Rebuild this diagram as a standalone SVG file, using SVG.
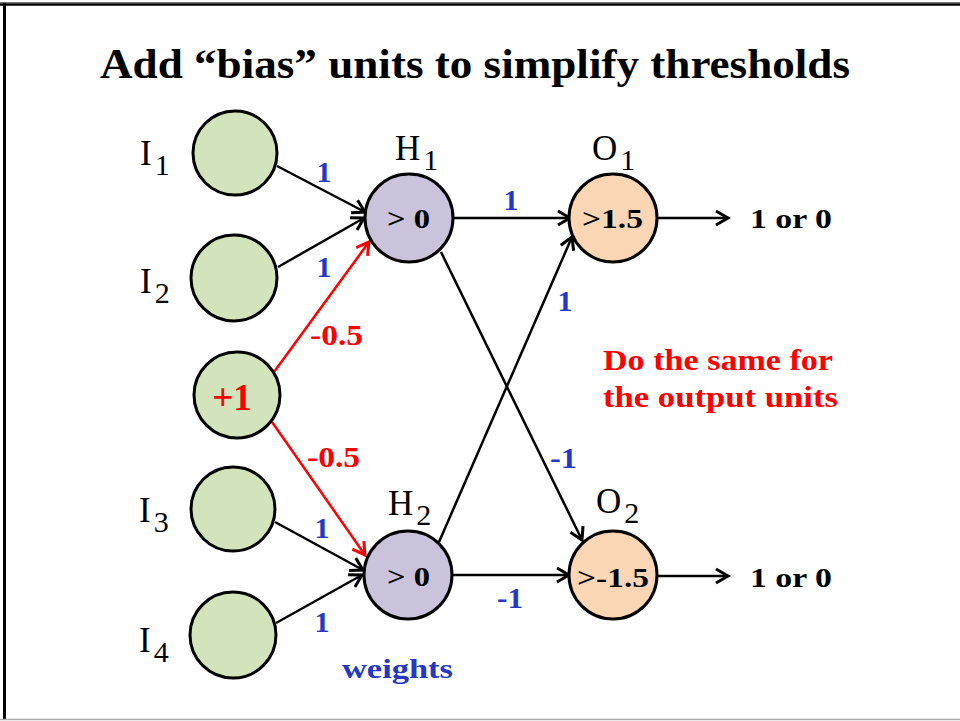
<svg xmlns="http://www.w3.org/2000/svg" width="960" height="721" viewBox="0 0 960 721">
<defs>
<marker id="ab" markerUnits="userSpaceOnUse" markerWidth="16" markerHeight="18" refX="13" refY="8" orient="auto" viewBox="0 0 16 16">
<path d="M1,1 L13,8 L1,15" fill="none" stroke="#000" stroke-width="3"/>
</marker>
<marker id="ar" markerUnits="userSpaceOnUse" markerWidth="16" markerHeight="18" refX="13" refY="8" orient="auto" viewBox="0 0 16 16">
<path d="M1,1 L13,8 L1,15" fill="none" stroke="#FF0000" stroke-width="3"/>
</marker>
</defs>
<style>
text{font-family:"Liberation Serif","DejaVu Serif",serif}
.in{fill:#D3E3BC;stroke:#000;stroke-width:3}
.hd{fill:#CBC2DB;stroke:#000;stroke-width:3}
.ou{fill:#FBD6B4;stroke:#000;stroke-width:3}
.lab{font-size:35px;fill:#000}
.sub{font-size:30px}
.nt{font-size:28px;font-weight:bold;fill:#000}
.w{font-size:30px;font-weight:bold;fill:#2438C4}
.wr{font-size:30px;font-weight:bold;fill:#FF0000}
.c{stroke:#000;stroke-width:2.5;fill:none;marker-end:url(#ab)}
.cr{stroke:#FF0000;stroke-width:2.5;fill:none;marker-end:url(#ar)}
</style>
<rect x="0" y="0" width="960" height="721" fill="#fff"/>
<line x1="0" y1="2.5" x2="960" y2="2.5" stroke="#777" stroke-width="1"/>
<line x1="0" y1="4.5" x2="960" y2="4.5" stroke="#000" stroke-width="2.5"/>
<line x1="4.5" y1="3" x2="4.5" y2="719" stroke="#000" stroke-width="3"/>
<line x1="0" y1="719.5" x2="960" y2="719.5" stroke="#aaa" stroke-width="1.5"/>
<text x="100" y="78" font-size="42" font-weight="bold" textLength="750" lengthAdjust="spacingAndGlyphs">Add “bias” units to simplify thresholds</text>
<g id="connectors">
<line class="c" x1="277" y1="166" x2="365" y2="212"/>
<line class="c" x1="278" y1="267" x2="364" y2="218"/>
<line class="cr" x1="274" y1="372" x2="369" y2="242"/>
<line class="cr" x1="272" y1="422" x2="365" y2="555"/>
<line class="c" x1="275" y1="522" x2="363" y2="570"/>
<line class="c" x1="276" y1="623" x2="362" y2="575"/>
<line class="c" x1="453" y1="218" x2="570" y2="218"/>
<line class="c" x1="439" y1="542" x2="572" y2="237"/>
<line class="c" x1="441" y1="252" x2="582" y2="540"/>
<line class="c" x1="452" y1="575" x2="569" y2="575"/>
<line class="c" x1="657" y1="218" x2="728" y2="218"/>
<line class="c" x1="657" y1="576" x2="728" y2="576"/>
</g>
<g id="I1"><circle class="in" cx="235" cy="153" r="42"/><text class="lab" x="140" y="165">I<tspan class="sub" dx="3" dy="10">1</tspan></text></g>
<g id="I2"><circle class="in" cx="234" cy="278" r="43"/><text class="lab" x="140" y="293">I<tspan class="sub" dx="3" dy="10">2</tspan></text></g>
<g id="bias"><circle class="in" cx="237" cy="395" r="43"/><text x="232" y="410" text-anchor="middle" font-size="37" font-weight="bold" fill="#FF0000">+1</text></g>
<g id="I3"><circle class="in" cx="233" cy="509" r="42"/><text class="lab" x="139" y="522">I<tspan class="sub" dx="3" dy="10">3</tspan></text></g>
<g id="I4"><circle class="in" cx="233" cy="635" r="43"/><text class="lab" x="139" y="652">I<tspan class="sub" dx="3" dy="10">4</tspan></text></g>
<g id="H1"><circle class="hd" cx="409" cy="218" r="44"/><text class="nt" x="387" y="228" textLength="43" lengthAdjust="spacingAndGlyphs">&gt; 0</text><text class="lab" x="395" y="160">H<tspan class="sub" dx="3" dy="10">1</tspan></text></g>
<g id="H2"><circle class="hd" cx="408" cy="575" r="44"/><text class="nt" x="387" y="586" textLength="43" lengthAdjust="spacingAndGlyphs">&gt; 0</text><text class="lab" x="388" y="515">H<tspan class="sub" dx="3" dy="10">2</tspan></text></g>
<g id="O1"><circle class="ou" cx="613" cy="218" r="44"/><text class="nt" x="582" y="228" textLength="61" lengthAdjust="spacingAndGlyphs">&gt;1.5</text><text class="lab" x="592" y="160">O<tspan class="sub" dx="3" dy="10">1</tspan></text></g>
<g id="O2"><circle class="ou" cx="613" cy="575" r="44"/><text class="nt" x="577" y="587" textLength="72" lengthAdjust="spacingAndGlyphs">&gt;-1.5</text><text class="lab" x="596" y="513">O<tspan class="sub" dx="3" dy="10">2</tspan></text></g>
<g id="out1"><text class="nt" x="750" y="228" font-size="29" textLength="82" lengthAdjust="spacingAndGlyphs">1 or 0</text></g>
<g id="out2"><text class="nt" x="750" y="587" font-size="29" textLength="82" lengthAdjust="spacingAndGlyphs">1 or 0</text></g>
<g id="labels">
<text class="w" x="324" y="182" text-anchor="middle">1</text>
<text class="w" x="324" y="277" text-anchor="middle">1</text>
<text class="wr" x="310" y="345" textLength="53" lengthAdjust="spacingAndGlyphs">-0.5</text>
<text class="wr" x="307" y="467" textLength="53" lengthAdjust="spacingAndGlyphs">-0.5</text>
<text class="w" x="322" y="538" text-anchor="middle">1</text>
<text class="w" x="322" y="632" text-anchor="middle">1</text>
<text class="w" x="511" y="210" text-anchor="middle">1</text>
<text class="w" x="565" y="311" text-anchor="middle">1</text>
<text class="w" x="550" y="468" textLength="27" lengthAdjust="spacingAndGlyphs">-1</text>
<text class="w" x="497" y="608" textLength="26" lengthAdjust="spacingAndGlyphs">-1</text>
<text x="342" y="678" font-size="28" font-weight="bold" fill="#2438C4" textLength="111" lengthAdjust="spacingAndGlyphs">weights</text>
<text x="603" y="370" font-size="29" font-weight="bold" fill="#FF0000" textLength="230" lengthAdjust="spacingAndGlyphs">Do the same for</text>
<text x="603" y="407" font-size="29" font-weight="bold" fill="#FF0000" textLength="235" lengthAdjust="spacingAndGlyphs">the output units</text>
</g>
</svg>
